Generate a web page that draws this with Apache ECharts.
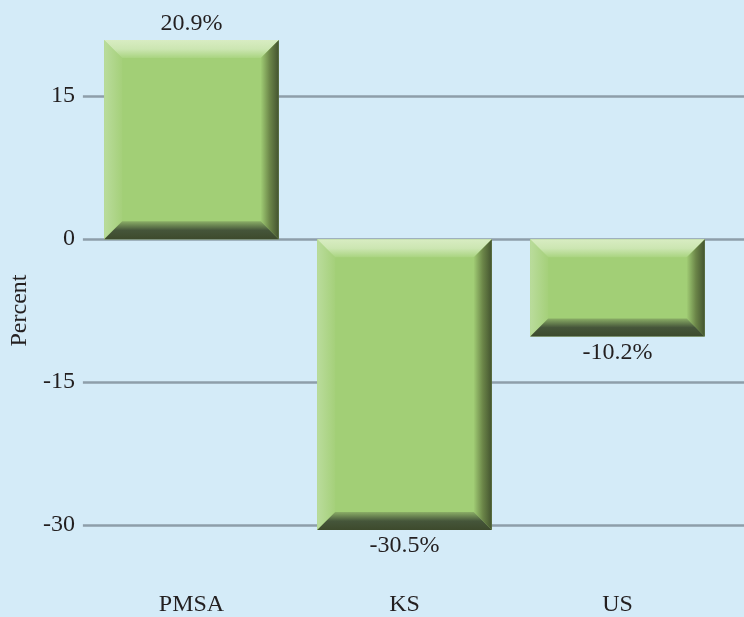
<!DOCTYPE html>
<html>
<head>
<meta charset="utf-8">
<script src="https://cdn.jsdelivr.net/npm/echarts@6/dist/echarts.min.js"></script>
<style>
  html, body { margin: 0; padding: 0; background: #d4ebf8; }
  #chart { width: 744px; height: 617px; }
</style>
</head>
<body>
<div id="chart"></div>
<script>
const categories = ['PMSA', 'KS', 'US']
const values = [20.9, -30.5, -10.2]
const yTicks = [-30, -15, 0, 15]

const FONT = 'Liberation Serif'
const TEXT = '#231f20'

function grad(x, y, x2, y2, stops) {
  return new echarts.graphic.LinearGradient(x, y, x2, y2,
    stops.map((c, i) => ({ offset: i / (stops.length - 1), color: c })))
}

// bevelled bar, drawn from the category/value scales
function renderBevel(params, api) {
  const idx = api.value(0)
  const top = api.coord([idx, api.value(1)])
  const base = api.coord([idx, 0])
  const w = api.size([1, 0])[0] * 0.82
  const x0 = top[0] - w / 2, x1 = top[0] + w / 2
  const y0 = Math.min(top[1], base[1]), y1 = Math.max(top[1], base[1])
  const b = Math.min(18, (y1 - y0) / 2)
  return {
    type: 'group',
    children: [
      { type: 'rect', shape: { x: x0, y: y0, width: w, height: y1 - y0 }, style: { fill: '#a2cf76' } },
      { type: 'polygon', shape: { points: [[x0, y0], [x0 + b, y0 + b], [x0 + b, y1 - b], [x0, y1]] },
        style: { fill: grad(0, 0, 1, 0, ['#badc9c', '#a5d07a']) } },
      { type: 'polygon', shape: { points: [[x0, y0], [x1, y0], [x1 - b, y0 + b], [x0 + b, y0 + b]] },
        style: { fill: grad(0, 0, 0, 1, ['#d8ecc2', '#cce6b2', '#a9d480']) } },
      { type: 'polygon', shape: { points: [[x1, y0], [x1, y1], [x1 - b, y1 - b], [x1 - b, y0 + b]] },
        style: { fill: grad(0, 0, 1, 0, ['#a0cc74', '#6b8548', '#43532f']) } },
      { type: 'polygon', shape: { points: [[x0, y1], [x1, y1], [x1 - b, y1 - b], [x0 + b, y1 - b]] },
        style: { fill: grad(0, 1, 0, 0, ['#3d4a2c', '#45553a', '#8aad66']) } }
    ]
  }
}

const chart = echarts.init(document.getElementById('chart'))
chart.setOption({
  backgroundColor: '#d4ebf8',
  textStyle: { fontFamily: FONT },
  grid: [
    { left: 85, right: 20, top: 1, bottom: 44 },
    { left: 71, right: 0, top: 96, bottom: 92 }
  ],
  xAxis: [
    {
      type: 'category', gridIndex: 0, data: categories,
      axisLine: { show: false }, axisTick: { show: false },
      axisLabel: { color: TEXT, fontSize: 24, fontFamily: FONT, margin: 20 }
    },
    { type: 'category', gridIndex: 1, data: [''], show: false }
  ],
  yAxis: [
    { type: 'value', gridIndex: 0, min: -35, max: 25, show: false, splitLine: { show: false } },
    {
      type: 'value', gridIndex: 1, min: yTicks[0], max: yTicks[yTicks.length - 1], interval: 15,
      name: 'Percent', nameLocation: 'middle', nameGap: 50,
      nameTextStyle: { color: TEXT, fontSize: 24, fontFamily: FONT },
      axisLine: { show: false }, axisTick: { show: false },
      axisLabel: { color: TEXT, fontSize: 24, fontFamily: FONT, margin: 8 },
      splitLine: { lineStyle: { color: '#8e9eaa', width: 2.5 } }
    }
  ],
  series: [
    {
      type: 'custom',
      xAxisIndex: 0, yAxisIndex: 0,
      renderItem: renderBevel,
      encode: { x: 0, y: 1 },
      data: values.map((v, i) => [i, v]),
      z: 3
    },
    {
      type: 'bar',
      xAxisIndex: 0, yAxisIndex: 0,
      barCategoryGap: '18%',
      itemStyle: { color: 'rgba(0,0,0,0)' },
      data: values.map((v) => ({
        value: v,
        label: {
          show: true,
          position: v >= 0 ? 'top' : 'bottom',
          distance: 4,
          formatter: (p) => p.value + '%',
          color: TEXT, fontSize: 24, fontFamily: FONT
        }
      })),
      z: 4,
      silent: true
    }
  ]
})
</script>
</body>
</html>
